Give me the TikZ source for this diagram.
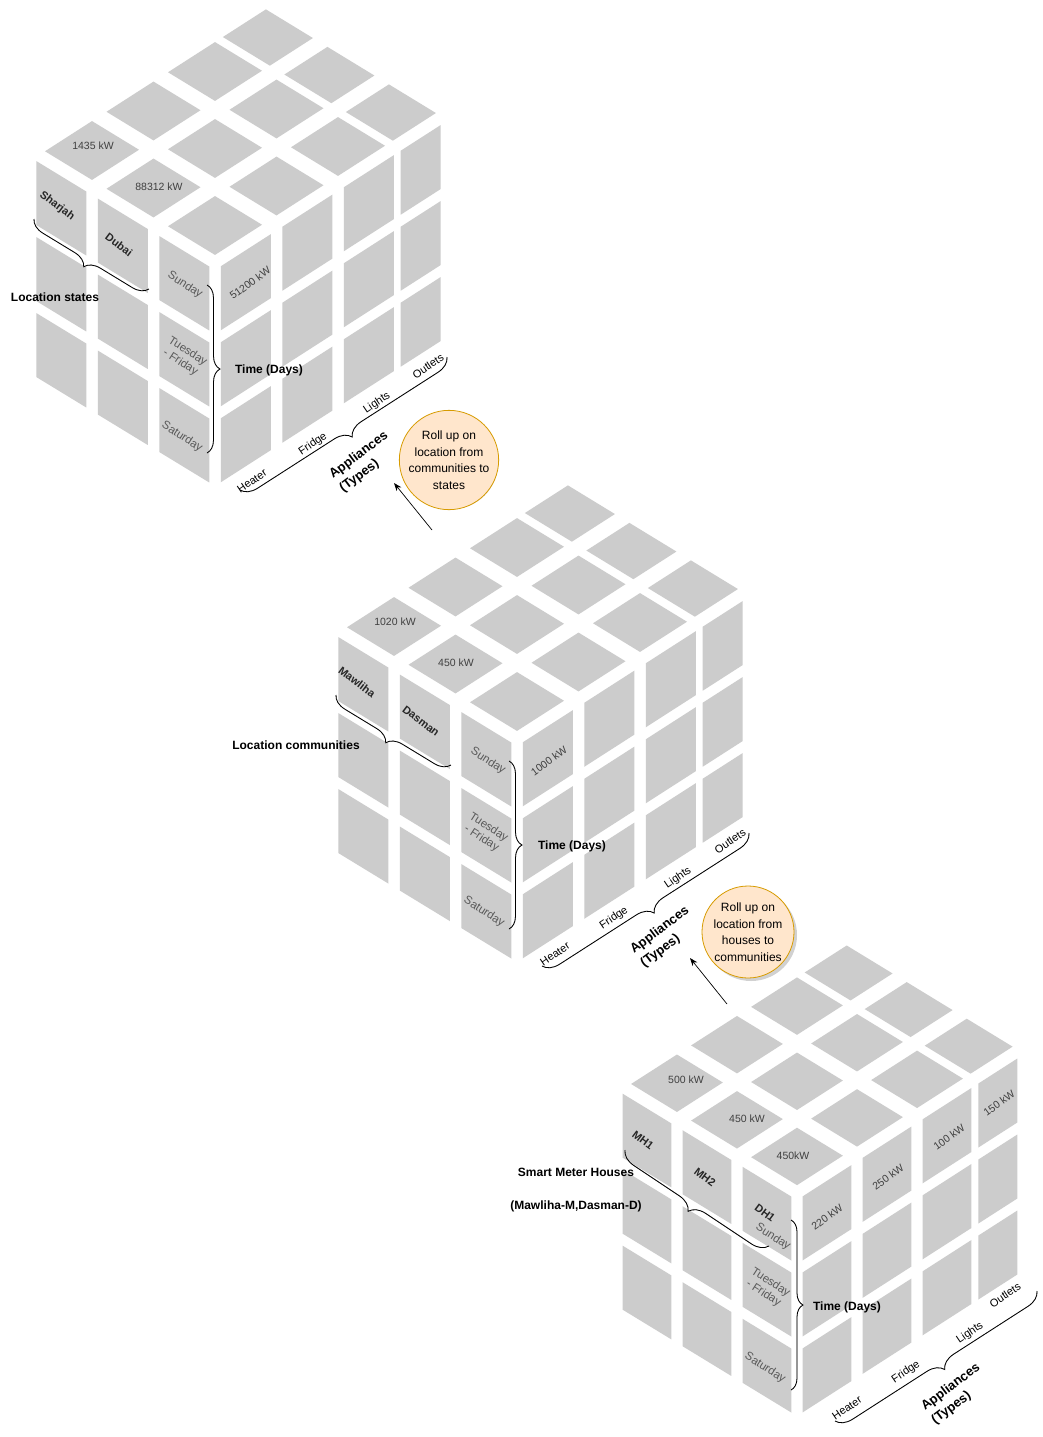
\documentclass[tikz,border=0pt]{standalone}
\usepackage{fontspec}
\setmainfont{Liberation Sans}
\usetikzlibrary{decorations.pathreplacing,arrows.meta}
\definecolor{tilegray}{HTML}{CCCCCC}
\definecolor{valtext}{HTML}{404040}
\definecolor{daytext}{HTML}{595959}
\definecolor{rollfill}{HTML}{FFE6CC}
\definecolor{rolldraw}{HTML}{D79B00}

\newcommand{\isocube}[3]{%
\begin{scope}[shift={(#1,#2)}]
\pgfmathsetmacro{\cAx}{61.5*#3}
\pgfmathsetmacro{\cAy}{39.5*#3}
\pgfmathsetmacro{\cBx}{-61.5*#3}
\pgfmathsetmacro{\cBy}{37.5*#3}
% left face
\begin{scope}[x={(\cBx pt,\cBy pt)},y={(0pt,-1pt)}]
\foreach \i in {0,1,2}{\foreach \rw in {0,1,2}{
\fill[tilegray] (\i+0.0935,\rw*76+6) -- (\i+0.9065,\rw*76+6) -- (\i+0.9065,\rw*76+70) -- (\i+0.0935,\rw*76+70) -- cycle;}}
\end{scope}
% right face
\begin{scope}[x={(\cAx pt,\cAy pt)},y={(0pt,-1pt)}]
\foreach \ua/\ub in {0.0935/0.9065,1.0935/1.9065,2.0935/2.9065,3.02/3.67}{\foreach \rw in {0,1,2}{
\fill[tilegray] (\ua,\rw*76+6) -- (\ub,\rw*76+6) -- (\ub,\rw*76+70) -- (\ua,\rw*76+70) -- cycle;}}
\end{scope}
% top face
\begin{scope}[x={(\cAx pt,\cAy pt)},y={(\cBx pt,\cBy pt)}]
\foreach \uc/\uh in {0.5/0.3821,1.5/0.3821,2.5/0.3821,3.36/0.35}{\foreach \vc in {0.5,1.5,2.5}{
\fill[tilegray] (\uc-\uh,\vc-0.3821) -- (\uc+\uh,\vc-0.3821) -- (\uc+\uh,\vc+0.3821) -- (\uc-\uh,\vc+0.3821) -- cycle;}}
\end{scope}
\end{scope}}

\begin{document}
\begin{tikzpicture}[x=1pt,y=-1pt,
  val/.style={font=\fontsize{10.5}{12}\selectfont, text=valtext, inner sep=0pt},
  rval/.style={font=\fontsize{10.5}{12}\selectfont, text=valtext, inner sep=0pt, rotate=36},
  day/.style={font=\fontsize{11.5}{13}\selectfont, text=daytext, align=center, inner sep=0pt, rotate=-33},
  nm/.style={font=\bfseries\fontsize{11}{13}\selectfont, text=black!85, inner sep=0pt, rotate=-37},
  lab/.style={font=\bfseries\fontsize{12}{14}\selectfont, inner sep=0pt},
  app/.style={font=\fontsize{11}{13}\selectfont, inner sep=0pt, rotate=34},
  apb/.style={font=\bfseries\fontsize{13}{17}\selectfont, align=left, inner sep=0pt, rotate=37},
  roll/.style={circle, draw=rolldraw, line width=0.8pt, fill=rollfill, minimum size=92pt, inner sep=0pt, align=center, font=\fontsize{12}{16.5}\selectfont},
  brc/.style={decorate, decoration={brace, amplitude=#1}, line width=0.8pt},
  brcm/.style={decorate, decoration={brace, mirror, amplitude=#1}, line width=0.8pt},
  shd/.style={shift={(1.5,1.5)}, draw=black!25},
  arr/.style={-{Stealth[length=8pt,width=6pt]}, line width=0.7pt}]
\fill[white] (0,0) rectangle (1043,1437);
\useasboundingbox (0,0) rectangle (1043,1437);

\isocube{215}{264}{1}
\isocube{517}{740}{1}
\isocube{797}{1194}{0.976}

% ---------- cube 1 ----------
\node[val] (v1a) at (93,146) {1435 kW};
\node[val] (v1b) at (159,187) {88312 kW};
\node[nm] (n1a) at (57,206) {Sharjah};
\node[nm] (n1b) at (119,245) {Dubai};
\node[day] (d1a) at (185,285) {Sunday};
\node[day] (d1b) at (184,357) {Tuesday\\- Friday};
\node[day] (d1c) at (182,437) {Saturday};
\node[rval] (r1a) at (250,283) {51200 kW};

\coordinate (b1ls) at (34,219); \coordinate (b1le) at (149,289);
\coordinate (b1ts) at (207,285); \coordinate (b1te) at (207,453);
\coordinate (b1as) at (240,490); \coordinate (b1ae) at (447,357);
\draw[brcm=15pt, shd] (b1ls) -- (b1le);
\draw[brcm=15pt] (b1ls) -- (b1le);
\draw[brc=13pt, shd] (b1ts) -- (b1te);
\draw[brc=13pt] (b1ts) -- (b1te);
\draw[brcm=16pt, shd] (b1as) -- (b1ae);
\draw[brcm=16pt] (b1as) -- (b1ae);

\node[lab] (l1a) at (55,297) {Location states};
\node[lab] (l1b) at (269,370) {Time (Days)};
\node[app] (h1) at (252,481) {Heater};
\node[app] (f1) at (313,444) {Fridge};
\node[app] (li1) at (377,403) {Lights};
\node[app] (o1) at (428,366) {Outlets};
\node[apb] (ap1) at (364,462) {Appliances\\(Types)};

\fill[black, opacity=0.18] (452,463) circle[radius=46];
\node[roll] (roll1) at (449,460) {Roll up on\\location from\\communities to\\states};
\coordinate (a1t) at (432,530); \coordinate (a1h) at (394,483);
\draw[arr] (a1t) -- (a1h);

% ---------- cube 2 ----------
\node[val] (v2a) at (395,622) {1020 kW};
\node[val] (v2b) at (456,663) {450 kW};
\node[nm] (n2a) at (357,682) {Mawliha};
\node[nm] (n2b) at (421,721) {Dasman};
\node[day] (d2a) at (488,761) {Sunday};
\node[day] (d2b) at (485,833) {Tuesday\\- Friday};
\node[day] (d2c) at (484,912) {Saturday};
\node[rval] (r2a) at (549,761) {1000 kW};

\coordinate (b2ls) at (336,695); \coordinate (b2le) at (451,765);
\coordinate (b2ts) at (509,761); \coordinate (b2te) at (509,929);
\coordinate (b2as) at (542,966); \coordinate (b2ae) at (749,833);
\draw[brcm=15pt, shd] (b2ls) -- (b2le);
\draw[brcm=15pt] (b2ls) -- (b2le);
\draw[brc=13pt, shd] (b2ts) -- (b2te);
\draw[brc=13pt] (b2ts) -- (b2te);
\draw[brcm=16pt, shd] (b2as) -- (b2ae);
\draw[brcm=16pt] (b2as) -- (b2ae);

\node[lab] (l2a) at (296,745) {Location communities};
\node[lab] (l2b) at (572,846) {Time (Days)};
\node[app] (h2) at (555,954) {Heater};
\node[app] (f2) at (614,918) {Fridge};
\node[app] (li2) at (678,878) {Lights};
\node[app] (o2) at (730,841) {Outlets};
\node[apb] (ap2) at (665,937) {Appliances\\(Types)};

\fill[black, opacity=0.18] (751,935) circle[radius=46];
\node[roll] (roll2) at (748,932) {Roll up on\\location from\\houses to\\communities};
\coordinate (a2t) at (727,1004); \coordinate (a2h) at (690,958);
\draw[arr] (a2t) -- (a2h);

% ---------- cube 3 ----------
\node[val] (v3a) at (686,1080) {500 kW};
\node[val] (v3b) at (747,1119) {450 kW};
\node[val] (v3c) at (793,1156) {450kW};
\node[nm] (n3a) at (643,1140) {MH1};
\node[nm] (n3b) at (705,1177) {MH2};
\node[nm] (n3c) at (765,1213) {DH1};
\node[day] (d3a) at (773,1237) {Sunday};
\node[day] (d3b) at (767,1288) {Tuesday\\- Friday};
\node[day] (d3c) at (765,1368) {Saturday};
\node[rval] (r3a) at (827,1217) {220 kW};
\node[rval] (r3b) at (888,1177) {250 kW};
\node[rval] (r3c) at (949,1137) {100 kW};
\node[rval] (r3d) at (999,1103) {150 kW};

\coordinate (b3ls) at (625,1150); \coordinate (b3le) at (769,1246);
\coordinate (b3ts) at (791,1220); \coordinate (b3te) at (791,1390);
\coordinate (b3as) at (835,1421); \coordinate (b3ae) at (1037,1291);
\draw[brcm=16pt, shd] (b3ls) -- (b3le);
\draw[brcm=16pt] (b3ls) -- (b3le);
\draw[brc=12pt, shd] (b3ts) -- (b3te);
\draw[brc=12pt] (b3ts) -- (b3te);
\draw[brcm=16pt, shd] (b3as) -- (b3ae);
\draw[brcm=16pt] (b3as) -- (b3ae);

\node[lab] (l3a) at (576,1172) {Smart Meter Houses};
\node[lab] (l3b) at (576,1206) {(Mawliha-M,Dasman-D)};
\node[lab] (l3c) at (847,1307) {Time (Days)};
\node[app] (h3) at (847,1408) {Heater};
\node[app] (f3) at (906,1372) {Fridge};
\node[app] (li3) at (970,1333) {Lights};
\node[app] (o3) at (1005,1295) {Outlets};
\node[apb] (ap3) at (956,1394) {Appliances\\(Types)};
\end{tikzpicture}
\end{document}
